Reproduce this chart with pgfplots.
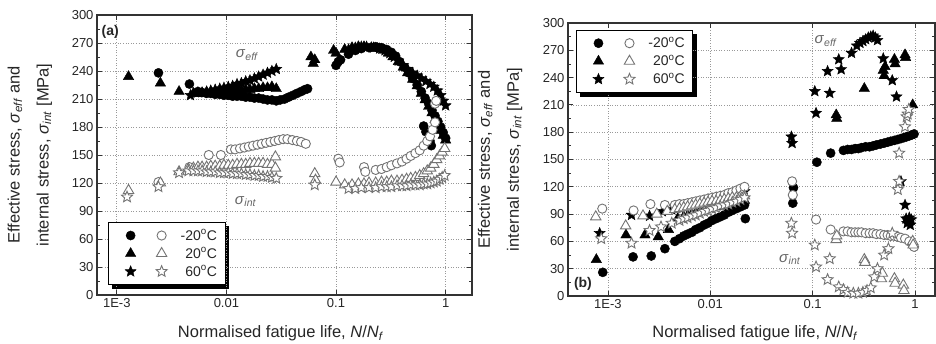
\documentclass[border=0pt]{standalone}
\usepackage{fontspec}
\setmainfont{Liberation Sans}
\usepackage{pgfplots}
\pgfplotsset{compat=1.18}
\usetikzlibrary{backgrounds}

\pgfdeclareplotmark{pstar}{%
  \pgfpathmoveto{\pgfpointpolar{90}{\pgfplotmarksize}}%
  \pgfpathlineto{\pgfpointpolar{126}{0.45\pgfplotmarksize}}%
  \pgfpathlineto{\pgfpointpolar{162}{\pgfplotmarksize}}%
  \pgfpathlineto{\pgfpointpolar{198}{0.45\pgfplotmarksize}}%
  \pgfpathlineto{\pgfpointpolar{234}{\pgfplotmarksize}}%
  \pgfpathlineto{\pgfpointpolar{270}{0.45\pgfplotmarksize}}%
  \pgfpathlineto{\pgfpointpolar{306}{\pgfplotmarksize}}%
  \pgfpathlineto{\pgfpointpolar{342}{0.45\pgfplotmarksize}}%
  \pgfpathlineto{\pgfpointpolar{18}{\pgfplotmarksize}}%
  \pgfpathlineto{\pgfpointpolar{54}{0.45\pgfplotmarksize}}%
  \pgfpathclose
  \pgfusepathqfillstroke
}

\definecolor{opengray}{gray}{0.45}
\definecolor{txt}{gray}{0.15}

\pgfplotsset{
  fc/.style={only marks, mark=*, mark size=4.6pt, mark options={fill=black, draw=black, line width=0.4pt}},
  ft/.style={only marks, mark=triangle*, mark size=6pt, mark options={fill=black, draw=black, line width=0.4pt}},
  fs/.style={only marks, mark=pstar, mark size=5.8pt, mark options={fill=black, draw=black, line width=0.4pt}},
  oc/.style={only marks, mark=*, mark size=4.6pt, mark options={fill=white, draw=opengray, line width=0.9pt}},
  ot/.style={only marks, mark=triangle*, mark size=6pt, mark options={fill=white, draw=opengray, line width=0.9pt}},
  os/.style={only marks, mark=pstar, mark size=5.8pt, mark options={fill=white, draw=opengray, line width=0.9pt}},
  limgA/.style={legend image code/.code={\path[draw=none, fill=none] (-16pt,-5pt) rectangle (9pt,5pt); \draw[##1] plot coordinates {(0pt,0pt)};}},
  limgB/.style={legend image code/.code={\path[draw=none, fill=none] (-18pt,-5pt) rectangle (17pt,5pt); \draw[##1] plot coordinates {(0pt,0pt)};}},
}
\tikzset{siglab/.style={font=\fontsize{15}{18}\selectfont, text=black!60}}

\begin{document}
\begin{tikzpicture}
\useasboundingbox (0,0) rectangle (936pt,344pt);

% ---------------- panel (a) ----------------
\begin{axis}[
    scale only axis, xmode=log, log basis x=10,
    at={(97pt,49pt)}, anchor=south west,
    width=375pt, height=280pt, xmin=6.6e-4, xmax=1.74,
    ymin=0, ymax=300, ytick={0,30,...,300}, minor y tick num=1,
    xtick={0.001,0.01,0.1,1}, xticklabels={1E-3,0.01,0.1,1},
    xmajorgrids, xminorgrids, ymajorgrids,
    major grid style={gray!80, line width=0.6pt, dash pattern=on 0.8pt off 1.8pt},
    minor grid style={gray!60, line width=0.5pt, dash pattern=on 0.8pt off 1.8pt},
    tick align=inside,
    axis line style={line width=1.3pt, black!80},
    major tick length=5pt, minor tick length=3pt,
    tick style={black!80, line width=0.8pt},
    tick label style={font=\fontsize{13}{15}\selectfont, text=txt},
    /pgf/number format/assume math mode=true,
    label style={font=\fontsize{16.5}{19}\selectfont, text=txt},
    xlabel={Normalised fatigue life, \textit{N}/\textit{N}\textsubscript{\textit{f}}},
    ylabel={Effective stress, \textit{σ}\textsubscript{\textit{eff}} and\\[10pt]internal stress, \textit{σ}\textsubscript{\textit{int}} [MPa]},
    xlabel style={at={(axis description cs:0.49,-0.137)}, anchor=center},
    ylabel style={at={(axis description cs:-0.179,0.5)}, align=center, anchor=center},
    legend columns=2, legend cell align=left,
    legend style={font=\fontsize{14}{16}\selectfont, text=txt, draw=black, line width=0.8pt, fill=white,
      nodes={inner xsep=2pt, inner ysep=1pt},
      row sep=4pt, column sep=0pt, inner xsep=6pt, inner ysep=6pt,
      at={(0.03,0.036)}, anchor=south west, name=lega}]
% filled circles -20C eff
\addplot[fc, forget plot] coordinates {(2.4e-3,238)(4.6e-3,226)
(0.0055,218)(0.006,217)(0.0066,216)(0.0072,216)(0.0079,215)(0.0087,215)(0.0095,214)(0.0104,214)(0.0114,213)(0.0125,213)(0.0137,213)(0.015,212)(0.0164,212)(0.018,211)(0.0197,211)(0.0216,210)(0.0237,209)(0.026,209)(0.0285,208)(0.031,209)(0.034,210)(0.037,212)(0.0405,214)(0.044,216)(0.048,218)(0.052,220)(0.055,221)
(0.1,246)(0.105,250)(0.11,252)(0.13,258)(0.15,262)(0.17,264)(0.2,265)(0.23,266)(0.26,265)(0.29,263)(0.32,260)(0.35,256)(0.38,250)(0.42,244)(0.46,238)(0.5,232)(0.55,225)(0.6,218)(0.65,211)(0.7,205)(0.75,198)(0.8,192)(0.85,186)(0.9,180)(0.95,174)(1.0,168)
(0.63,181)(0.66,175)(0.72,165)(0.74,160)};
% filled triangles 20C eff
\addplot[ft, forget plot] coordinates {(1.28e-3,234)(2.5e-3,227)(3.7e-3,218)
(0.005,216)(0.0055,216)(0.006,216)(0.0066,217)(0.0072,217)(0.0079,217)(0.0087,218)(0.0095,218)(0.0104,218)(0.0114,219)(0.0125,219)(0.0137,219)(0.015,220)(0.0164,220)(0.018,221)(0.0197,221)(0.0216,222)(0.0237,222)(0.026,223)(0.0285,221)
(0.059,255)(0.062,248)(0.064,252)(0.095,262)(0.1,259)(0.12,263)(0.14,265)(0.16,266)(0.18,266)(0.21,265)(0.24,264)(0.27,262)(0.3,259)(0.33,255)(0.37,250)(0.41,244)(0.45,238)(0.5,231)(0.55,224)(0.6,216)(0.65,209)(0.7,202)(0.75,195)(0.8,188)(0.85,182)(0.9,176)(0.95,171)(1.0,166)};
% filled stars 60C eff
\addplot[fs, forget plot] coordinates {(4.7e-3,214)
(0.0055,217)(0.006,217)(0.0066,218)(0.0072,219)(0.0079,220)(0.0087,221)(0.0095,222)(0.0104,223)(0.0114,224)(0.0125,226)(0.0137,227)(0.015,229)(0.0164,230)(0.018,232)(0.0197,234)(0.0216,236)(0.0237,238)(0.026,240)(0.0285,242)
(0.13,263)(0.15,265)(0.17,266)(0.19,266)(0.22,265)(0.25,264)(0.28,262)(0.31,259)(0.34,255)(0.37,251)(0.41,246)(0.45,242)(0.5,238)(0.55,235)(0.6,232)(0.66,229)(0.72,226)(0.78,223)(0.84,219)(0.9,214)(0.95,208)(1.0,203)};
% open circles -20C int
\addplot[oc, forget plot] coordinates {(2.4e-3,121)(4.6e-3,137)(6.9e-3,150)(8.9e-3,150)
(0.011,156)(0.012,156)(0.0133,157)(0.0146,158)(0.016,159)(0.0175,160)(0.0192,161)(0.021,162)(0.023,163)(0.0252,164)(0.0276,165)(0.03,166)(0.033,167)(0.036,167)(0.04,166)(0.044,165)(0.048,164)(0.053,162)
(0.105,146)(0.108,142)(0.18,137)(0.185,132)
(0.23,134)(0.26,135)(0.29,137)(0.32,139)(0.36,141)(0.4,143)(0.44,146)(0.48,149)(0.53,152)(0.58,155)(0.63,160)(0.68,165)(0.72,170)(0.76,177)(0.8,185)(0.8,205)(0.82,208)};
% open triangles 20C int
\addplot[ot, forget plot] coordinates {(1.28e-3,112)(2.5e-3,120)(3.7e-3,132)(0.0045,135)
(0.005,136)(0.0055,137)(0.006,137)(0.0066,137)(0.0072,138)(0.0079,138)(0.0087,138)(0.0095,139)(0.0104,139)(0.0114,139)(0.0125,140)(0.0137,140)(0.015,140)(0.0164,141)(0.018,141)(0.0197,141)(0.0216,141)(0.0237,140)(0.026,140)(0.028,148)(0.028,136)
(0.064,130)(0.065,123)(0.1,121)
(0.12,118)(0.14,118)(0.16,119)(0.18,119)(0.2,120)(0.23,120)(0.26,121)(0.29,121)(0.32,122)(0.36,122)(0.4,123)(0.44,124)(0.48,125)(0.53,126)(0.58,128)(0.63,130)(0.68,133)(0.73,136)(0.78,140)(0.83,145)(0.88,149)(0.93,153)(0.98,157)};
% open stars 60C int
\addplot[os, forget plot] coordinates {(1.24e-3,105)(2.4e-3,116)(3.7e-3,131)(4.5e-3,133)
(0.005,133)(0.0055,133)(0.006,133)(0.0066,132)(0.0072,132)(0.0079,132)(0.0087,131)(0.0095,131)(0.0104,131)(0.0114,130)(0.0125,130)(0.0137,130)(0.015,129)(0.0164,129)(0.018,128)(0.0197,128)(0.0216,127)(0.0237,127)(0.026,126)(0.0285,125)
(0.064,118)(0.13,114)(0.15,114)(0.17,115)(0.2,115)(0.23,115)(0.26,116)(0.29,116)(0.32,116)(0.36,117)(0.4,117)(0.44,117)(0.48,118)(0.53,118)(0.58,118)(0.63,119)(0.68,119)(0.73,120)(0.78,121)(0.83,122)(0.88,124)(0.93,126)(0.98,128)};
\addlegendimage{fc, limgA}\addlegendentry{}
\addlegendimage{oc, limgB}\addlegendentry{-20\textsuperscript{o}C}
\addlegendimage{ft, limgA}\addlegendentry{}
\addlegendimage{ot, limgB}\addlegendentry{\phantom{-}20\textsuperscript{o}C}
\addlegendimage{fs, limgA}\addlegendentry{}
\addlegendimage{os, limgB}\addlegendentry{\phantom{-}60\textsuperscript{o}C}
\node[font=\fontsize{14}{16}\selectfont\bfseries, text=txt] at (axis cs:8.7e-4,282) {(a)};
\node[siglab] at (axis cs:0.0155,257) {\textit{σ}\textsubscript{\textit{eff}}};
\node[siglab] at (axis cs:0.015,100) {\textit{σ}\textsubscript{\textit{int}}};
\end{axis}

% ---------------- panel (b) ----------------
\begin{axis}[
    scale only axis, xmode=log, log basis x=10,
    at={(568pt,48pt)}, anchor=south west,
    width=367pt, height=273pt, xmin=4.07e-4, xmax=1.57,
    ymin=0, ymax=300, ytick={0,30,...,300}, minor y tick num=1,
    xtick={0.001,0.01,0.1,1}, xticklabels={1E-3,0.01,0.1,1},
    xmajorgrids, xminorgrids, ymajorgrids,
    major grid style={gray!80, line width=0.6pt, dash pattern=on 0.8pt off 1.8pt},
    minor grid style={gray!60, line width=0.5pt, dash pattern=on 0.8pt off 1.8pt},
    tick align=inside,
    axis line style={line width=1.3pt, black!80},
    major tick length=5pt, minor tick length=3pt,
    tick style={black!80, line width=0.8pt},
    tick label style={font=\fontsize{13}{15}\selectfont, text=txt},
    /pgf/number format/assume math mode=true,
    label style={font=\fontsize{16.5}{19}\selectfont, text=txt},
    xlabel={Normalised fatigue life, \textit{N}/\textit{N}\textsubscript{\textit{f}}},
    ylabel={Effective stress, \textit{σ}\textsubscript{\textit{eff}} and\\[10pt]internal stress, \textit{σ}\textsubscript{\textit{int}} [MPa]},
    xlabel style={at={(axis description cs:0.51,-0.138)}, anchor=center},
    ylabel style={at={(axis description cs:-0.185,0.5)}, align=center, anchor=center},
    legend columns=2, legend cell align=left,
    legend style={font=\fontsize{14}{16}\selectfont, text=txt, draw=black, line width=0.8pt, fill=white,
      nodes={inner xsep=2pt, inner ysep=1pt},
      row sep=4pt, column sep=0pt, inner xsep=6pt, inner ysep=6pt,
      at={(0.022,0.975)}, anchor=north west, name=legb}]
\addplot[fc, forget plot] coordinates {(8.9e-4,26)(1.76e-3,43)(2.65e-3,44)(3.6e-3,52)(4.5e-3,60)
(0.005,63)(0.0055,66)(0.006,68)(0.0066,70)(0.0072,73)(0.0079,75)(0.0087,78)(0.0095,80)(0.0104,83)(0.0114,85)(0.0125,87)(0.0137,89)(0.015,92)(0.0164,94)(0.018,96)(0.0197,98)(0.0216,100)(0.022,85)
(0.064,102)(0.065,119)(0.11,147)(0.15,157)(0.2,160)
(0.22,161)(0.24,161)(0.26,162)(0.28,162)(0.3,163)(0.33,164)(0.36,164)(0.39,165)(0.42,166)(0.46,167)(0.5,168)(0.54,169)(0.58,170)(0.63,171)(0.68,172)(0.73,173)(0.78,174)(0.83,175)(0.88,176)(0.93,177)(0.98,178)};
\addplot[ft, forget plot] coordinates {(7.7e-4,40)(1.5e-3,67)(2.3e-3,67)(3.1e-3,65)(3.9e-3,73)(4.8e-3,85)
(0.0055,87)(0.006,88)(0.0066,90)(0.0072,91)(0.0079,93)(0.0087,94)(0.0095,96)(0.0104,97)(0.0114,98)(0.0125,99)(0.0137,100)(0.015,101)(0.0164,102)(0.018,103)(0.0197,104)(0.0216,105)
(0.17,199)(0.172,195)(0.32,228)(0.49,248)(0.5,242)(0.51,252)(0.63,260)(0.64,255)(0.8,265)(0.81,262)(0.95,210)};
\addplot[fs, forget plot] coordinates {(8.3e-4,69)(1.7e-3,89)(2.55e-3,88)(3.4e-3,93)(4.2e-3,95)
(0.005,97)(0.0055,98)(0.006,99)(0.0066,101)(0.0072,102)(0.0079,103)(0.0087,104)(0.0095,106)(0.0104,107)(0.0114,108)(0.0125,109)(0.0137,110)(0.015,111)(0.0164,112)(0.018,113)(0.0197,114)(0.0216,115)
(0.062,175)(0.063,168)(0.105,225)(0.108,201)(0.14,247)(0.147,223)(0.18,260)(0.19,249)(0.24,267)(0.27,275)(0.29,278)(0.31,280)(0.33,282)(0.35,284)(0.37,285)(0.39,286)(0.41,284)(0.43,281)(0.49,261)(0.6,237)(0.66,219)(0.73,126)(0.8,100)(0.82,85)(0.84,80)(0.86,82)(0.88,86)(0.9,78)(0.92,84)};
\addplot[oc, forget plot] coordinates {(8.8e-4,96)(1.78e-3,94)(2.6e-3,101)(3.6e-3,100)(4.5e-3,100)
(0.005,101)(0.0055,101)(0.006,102)(0.0066,103)(0.0072,104)(0.0079,105)(0.0087,106)(0.0095,107)(0.0104,108)(0.0114,109)(0.0125,110)(0.0137,111)(0.015,113)(0.0164,114)(0.018,116)(0.0197,118)(0.0216,120)
(0.063,126)(0.064,111)(0.108,84)(0.15,73)(0.2,71)
(0.22,71)(0.24,70)(0.26,70)(0.28,70)(0.3,70)(0.33,69)(0.36,69)(0.39,69)(0.42,68)(0.46,68)(0.5,67)(0.54,67)(0.58,66)(0.63,66)(0.68,65)(0.73,64)(0.8,63)(0.88,60)(0.95,56)(0.98,54)};
\addplot[ot, forget plot] coordinates {(7.6e-4,87)(1.49e-3,77)(2.2e-3,88)(3e-3,90)(3.8e-3,93)
(0.0045,95)(0.005,96)(0.0055,97)(0.006,98)(0.0066,99)(0.0072,100)(0.0079,101)(0.0087,102)(0.0095,103)(0.0104,104)(0.0114,104)(0.0125,105)(0.0137,106)(0.015,107)(0.0164,108)(0.018,108)(0.0197,109)(0.0216,110)
(0.17,62)(0.172,66)(0.32,40)(0.325,37)(0.47,19)(0.48,25)(0.63,19)(0.64,14)(0.77,12)(0.78,6)(0.95,60)(0.96,56)};
\addplot[os, forget plot] coordinates {(8.6e-4,63)(1.7e-3,58)(2.55e-3,72)(3.3e-3,76)(4.2e-3,80)
(0.005,83)(0.0055,85)(0.006,86)(0.0066,88)(0.0072,89)(0.0079,91)(0.0087,93)(0.0095,94)(0.0104,96)(0.0114,97)(0.0125,99)(0.0137,100)(0.015,101)(0.0164,103)(0.018,104)(0.0197,106)(0.0216,108)
(0.062,80)(0.063,69)(0.105,56)(0.108,32)(0.147,41)(0.14,18)(0.18,10)(0.2,7)(0.22,4)(0.25,3)(0.28,3)(0.31,4)(0.34,6)(0.37,9)(0.4,21)(0.43,30)(0.5,45)(0.55,52)(0.6,69)(0.68,117)(0.7,126)(0.7,157)(0.8,186)(0.83,197)(0.85,200)(0.87,205)};
\addlegendimage{fc, limgA}\addlegendentry{}
\addlegendimage{oc, limgB}\addlegendentry{-20\textsuperscript{o}C}
\addlegendimage{ft, limgA}\addlegendentry{}
\addlegendimage{ot, limgB}\addlegendentry{\phantom{-}20\textsuperscript{o}C}
\addlegendimage{fs, limgA}\addlegendentry{}
\addlegendimage{os, limgB}\addlegendentry{\phantom{-}60\textsuperscript{o}C}
\node[font=\fontsize{14}{16}\selectfont\bfseries, text=txt] at (axis cs:5.7e-4,13) {(b)};
\node[siglab] at (axis cs:0.135,280) {\textit{σ}\textsubscript{\textit{eff}}};
\node[siglab] at (axis cs:0.06,40) {\textit{σ}\textsubscript{\textit{int}}};
\end{axis}

\begin{pgfonlayer}{background}
\fill[black] ([shift={(4pt,-4pt)}]lega.south west) rectangle ([shift={(4pt,-4pt)}]lega.north east);
\fill[black] ([shift={(4pt,-4pt)}]legb.south west) rectangle ([shift={(4pt,-4pt)}]legb.north east);
\end{pgfonlayer}
\end{tikzpicture}
\end{document}
